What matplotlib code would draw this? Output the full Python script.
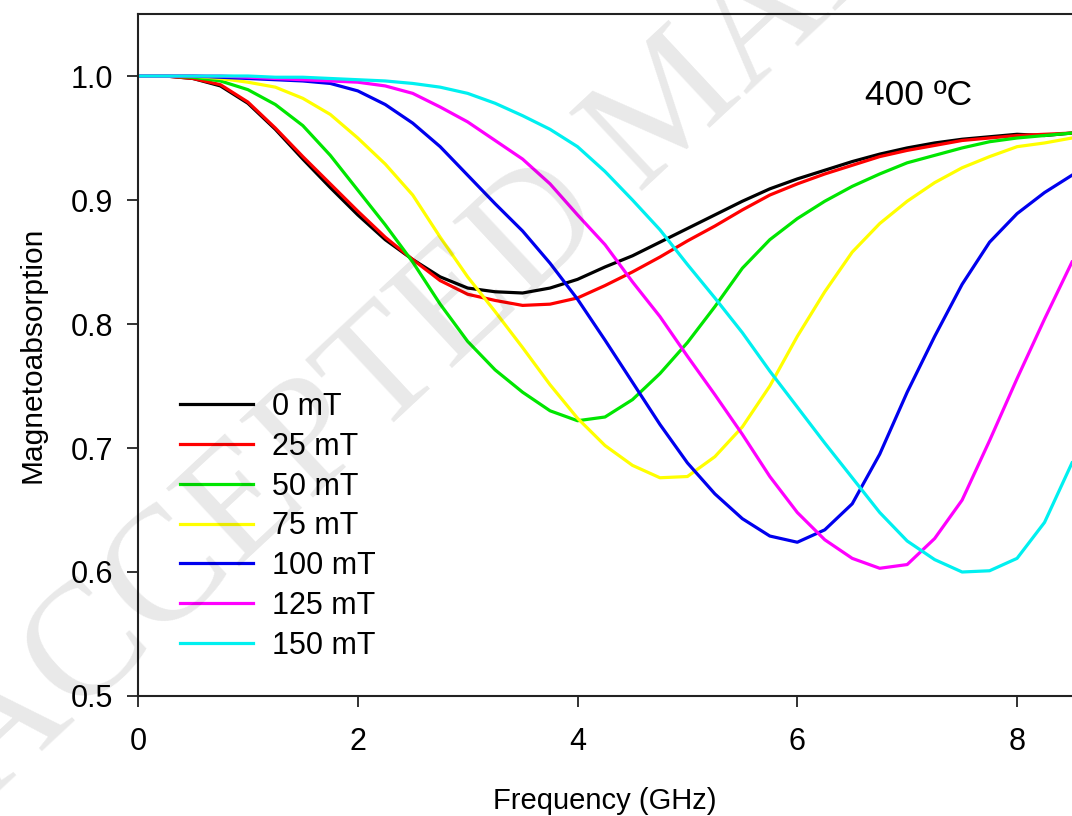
import matplotlib
matplotlib.use("Agg")
import matplotlib.pyplot as plt

# frequency grid (GHz)
freq = [0.0, 0.25, 0.5, 0.75, 1.0, 1.25, 1.5, 1.75, 2.0, 2.25, 2.5, 2.75, 3.0,
        3.25, 3.5, 3.75, 4.0, 4.25, 4.5, 4.75, 5.0, 5.25, 5.5, 5.75, 6.0,
        6.25, 6.5, 6.75, 7.0, 7.25, 7.5, 7.75, 8.0, 8.25, 8.5]

# magnetoabsorption for each applied field
mt0 = [1.000, 1.000, 0.998, 0.992, 0.978, 0.957, 0.933, 0.910, 0.888, 0.868, 0.852, 0.838, 0.829,
       0.826, 0.825, 0.829, 0.836, 0.846, 0.855, 0.866, 0.877, 0.888, 0.899, 0.909, 0.917,
       0.924, 0.931, 0.937, 0.942, 0.946, 0.949, 0.951, 0.953, 0.952, 0.954]
mt25 = [1.000, 1.000, 0.998, 0.993, 0.979, 0.958, 0.935, 0.913, 0.891, 0.870, 0.852, 0.835, 0.824,
        0.819, 0.815, 0.816, 0.821, 0.831, 0.842, 0.854, 0.867, 0.879, 0.892, 0.904, 0.913,
        0.921, 0.928, 0.935, 0.940, 0.944, 0.948, 0.950, 0.952, 0.953, 0.954]
mt50 = [1.000, 1.000, 0.999, 0.996, 0.989, 0.977, 0.960, 0.936, 0.908, 0.880, 0.850, 0.816, 0.786,
        0.763, 0.745, 0.730, 0.722, 0.725, 0.739, 0.760, 0.785, 0.814, 0.845, 0.868, 0.885,
        0.899, 0.911, 0.921, 0.930, 0.936, 0.942, 0.947, 0.950, 0.952, 0.954]
mt75 = [1.000, 1.000, 1.000, 0.998, 0.995, 0.991, 0.982, 0.969, 0.950, 0.929, 0.904, 0.870, 0.838,
        0.810, 0.781, 0.751, 0.724, 0.702, 0.686, 0.676, 0.677, 0.693, 0.717, 0.750, 0.790,
        0.826, 0.858, 0.881, 0.899, 0.914, 0.926, 0.935, 0.943, 0.946, 0.950]
mt100 = [1.000, 1.000, 1.000, 0.999, 0.998, 0.997, 0.996, 0.994, 0.988, 0.977, 0.962, 0.943, 0.920,
         0.897, 0.875, 0.849, 0.820, 0.787, 0.753, 0.719, 0.688, 0.663, 0.643, 0.629, 0.624,
         0.634, 0.655, 0.695, 0.745, 0.790, 0.832, 0.866, 0.889, 0.906, 0.920]
mt125 = [1.000, 1.000, 1.000, 1.000, 0.999, 0.998, 0.997, 0.996, 0.995, 0.992, 0.986, 0.975, 0.963,
         0.948, 0.933, 0.913, 0.888, 0.864, 0.834, 0.806, 0.774, 0.743, 0.711, 0.677, 0.648,
         0.626, 0.611, 0.603, 0.606, 0.627, 0.658, 0.706, 0.756, 0.804, 0.850]
mt150 = [1.000, 1.000, 1.000, 1.000, 1.000, 0.999, 0.999, 0.998, 0.997, 0.996, 0.994, 0.991, 0.986,
         0.978, 0.968, 0.957, 0.943, 0.923, 0.900, 0.876, 0.848, 0.821, 0.793, 0.762, 0.733,
         0.704, 0.676, 0.648, 0.625, 0.610, 0.600, 0.601, 0.611, 0.640, 0.688]

labels = ["0 mT", "25 mT", "50 mT", "75 mT", "100 mT", "125 mT", "150 mT"]
colors = ["#000000", "#ff0000", "#00e600", "#ffff00", "#0000ee", "#ff00ff", "#00f0f0"]
series = [mt0, mt25, mt50, mt75, mt100, mt125, mt150]

plt.rcParams['font.family'] = ['Liberation Sans', 'DejaVu Sans']

fig = plt.figure(figsize=(10.72, 8.16), dpi=100)
ax = fig.add_axes([0.12873, 0.14706, 0.87127, 0.83578])

for ys, c, lab in zip(series, colors, labels):
    ax.plot(freq, ys, color=c, lw=2.3, label=lab)

ax.set_xlim(0, 8.5)
ax.set_ylim(0.5, 1.05)
ax.set_xticks([0, 2, 4, 6, 8])
ax.set_yticks([0.5, 0.6, 0.7, 0.8, 0.9, 1.0])
ax.set_yticklabels(["0.5", "0.6", "0.7", "0.8", "0.9", "1.0"])
ax.tick_params(direction='out', length=8, width=1.3, labelsize=22, color='#222222')
ax.tick_params(axis='y', pad=10)
ax.tick_params(axis='x', pad=14)
for s in ['left', 'bottom', 'top']:
    ax.spines[s].set_linewidth(1.5)
    ax.spines[s].set_color('#222222')
ax.spines['right'].set_visible(False)

ax.set_xlabel("Frequency (GHz)", fontsize=21, labelpad=22)
ax.set_ylabel("Magnetoabsorption", fontsize=21.5, labelpad=17)

ax.text(7.1, 0.9845, "400 ºC", fontsize=25.5, ha='center', va='center')

ax.legend(loc='upper left', bbox_to_anchor=(180 / 1072, 1 - 392 / 816),
          bbox_transform=fig.transFigure, frameon=False, fontsize=22,
          handlelength=2.4, handletextpad=0.6, labelspacing=0.32,
          borderpad=0, borderaxespad=0)

# faint manuscript watermark across the page
fig.text(-10 / 1072, 1 - 800 / 816, "ACCEPTED MANUSCRIPT", rotation=43,
         rotation_mode='anchor', ha='left', va='baseline', fontsize=118,
         family='Liberation Serif', color='#000000', alpha=0.09)

fig.savefig("out.png", dpi=100)
